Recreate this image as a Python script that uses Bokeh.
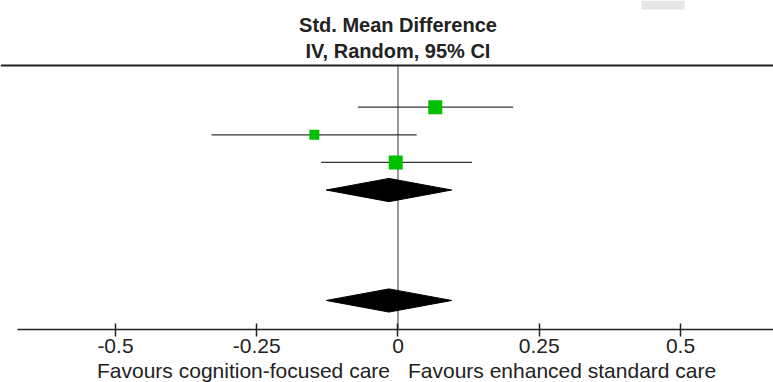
from bokeh.plotting import figure
from bokeh.models import (Range1d, LinearAxis, FixedTicker, Span, Label,
                          BoxAnnotation, ColumnDataSource)
from bokeh.embed import file_html
from bokeh.resources import INLINE

# ---- data ------------------------------------------------------------
study_rows = [0, 1, 2]
study_smd = [0.066, -0.148, -0.004]
study_lower = [-0.071, -0.330, -0.136]
study_upper = [0.204, 0.033, 0.131]
study_weight = [40.0, 20.0, 40.0]

summary_rows = [3, 7]
summary_smd = [-0.016, -0.016]
summary_lower = [-0.127, -0.127]
summary_upper = [0.095, 0.095]

tick_values = [-0.5, -0.25, 0.0, 0.25, 0.5]
tick_labels = ["-0.5", "-0.25", "0", "0.25", "0.5"]

header_lines = ["Std. Mean Difference", "IV, Random, 95% CI"]
favours_left = "Favours cognition-focused care"
favours_right = "Favours enhanced standard care"

# ---- layout / styling ---------------------------------------------------
FONT = "Liberation Sans"
TEXT = "#222222"
GREEN = "#00c000"
X0, X1 = -0.7035, 0.6646          # frame spans the whole canvas width
Y_BOTTOM, Y_TOP = 9.971, -3.865   # frame spans the whole canvas height (rows)
RULE_ROW = -1.51                  # header rule
AXIS_ROW = 8.051                  # scale axis
MAX_SQ = 14.0
DIAMOND_HALF = 0.42

p = figure(width=773, height=382, output_backend="svg", toolbar_location=None,
           x_range=Range1d(X0, X1), y_range=Range1d(Y_BOTTOM, Y_TOP),
           x_axis_location=None, y_axis_location=None,
           min_border=0, outline_line_color=None,
           background_fill_color="white", border_fill_color="white")
p.grid.visible = False

# bottom scale axis, fixed inside the frame
xaxis = LinearAxis(ticker=FixedTicker(ticks=tick_values),
                   major_label_overrides=dict(zip(tick_values, tick_labels)),
                   fixed_location=AXIS_ROW,
                   bounds=(-0.6735, X1),
                   axis_line_width=1.5, axis_line_color=TEXT,
                   major_tick_in=6, major_tick_out=7,
                   major_tick_line_width=1.5, major_tick_line_color=TEXT,
                   minor_tick_line_color=None,
                   major_label_text_font=FONT,
                   major_label_text_font_size="21px",
                   major_label_text_color=TEXT,
                   major_label_standoff=3)
p.add_layout(xaxis, "below")

# header rule
p.add_layout(Span(location=RULE_ROW, dimension="width", line_color=TEXT,
                  line_width=2))

# line of no effect, from the header rule down to the axis
p.segment(x0=[0.0], y0=[RULE_ROW], x1=[0.0], y1=[AXIS_ROW],
          line_color="#333333", line_width=1)

# studies
sizes = [MAX_SQ * (w / max(study_weight)) ** 0.5 for w in study_weight]
src = ColumnDataSource(dict(row=study_rows, smd=study_smd, lo=study_lower,
                            hi=study_upper, size=sizes))
p.segment(x0="lo", y0="row", x1="hi", y1="row", source=src,
          line_color="#333333", line_width=1.2)
p.scatter(x="smd", y="row", size="size", marker="square", source=src,
          fill_color=GREEN, line_color=None)

# pooled diamonds
xs = [[lo, m, hi, m] for lo, m, hi in zip(summary_lower, summary_smd, summary_upper)]
ys = [[r, r - DIAMOND_HALF, r, r + DIAMOND_HALF] for r in summary_rows]
p.patches(xs=xs, ys=ys, fill_color="black", line_color="black", line_width=1)

# header text
p.add_layout(Label(x=0, y=RULE_ROW, text=header_lines[0], text_align="center",
                   text_baseline="middle", y_offset=41, text_font=FONT,
                   text_font_style="bold", text_font_size="20px",
                   text_color=TEXT))
p.add_layout(Label(x=0, y=RULE_ROW, text=header_lines[1], text_align="center",
                   text_baseline="middle", y_offset=14.5, text_font=FONT,
                   text_font_style="bold", text_font_size="20px",
                   text_color=TEXT))

# favours labels
p.add_layout(Label(x=0, y=AXIS_ROW, text=favours_left, text_align="right",
                   text_baseline="middle", x_offset=-8, y_offset=-41,
                   text_font=FONT, text_font_size="21px", text_color=TEXT))
p.add_layout(Label(x=0, y=AXIS_ROW, text=favours_right, text_align="left",
                   text_baseline="middle", x_offset=10, y_offset=-41,
                   text_font=FONT, text_font_size="21px", text_color=TEXT))

# small grey tab at the top right of the reference image
try:
    p.add_layout(BoxAnnotation(left=641, right=684, top=0, bottom=9,
                               left_units="canvas", right_units="canvas",
                               top_units="canvas", bottom_units="canvas",
                               fill_color="#e4e5e4", fill_alpha=1.0,
                               line_color=None))
except Exception:
    pass

open("out.html", "w").write(file_html(p, INLINE))
